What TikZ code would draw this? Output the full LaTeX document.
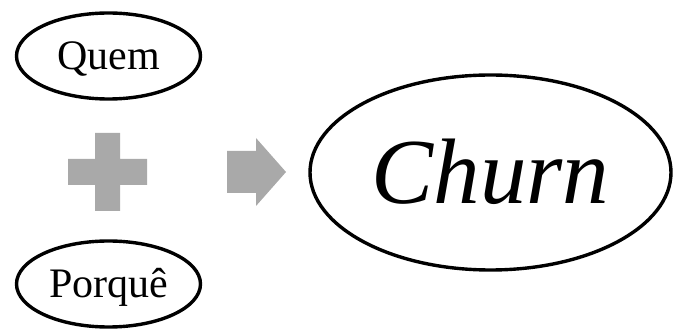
\documentclass[tikz,border=0pt]{standalone}
\usepackage{fontspec}
\setmainfont{Liberation Serif}
\usepackage{xcolor}
\usepackage{tikz}
\usetikzlibrary{shapes.geometric}
\definecolor{symgray}{HTML}{A9A9A9}

\begin{document}
\begin{tikzpicture}[x=1pt,y=-1pt,
  oval/.style={ellipse,draw=black,line width=3.4pt,inner sep=0pt,text depth=0pt},
  small/.style={oval,font=\fontsize{42}{42}\selectfont,text height=28pt,minimum width=184pt,minimum height=86pt},
  sym/.style={fill=symgray,draw=none}]
\useasboundingbox (0,0) rectangle (673,331);

\node[small] (quem) at (108.5,56) {Quem};
\node[small] (porque) at (108.5,284) {Porquê};
\node[oval,font=\fontsize{93}{93}\selectfont\itshape,text height=62pt,minimum width=361pt,minimum height=195pt] (churn) at (490.5,172.5) {Churn};

% plus and arrow
\fill[sym] (95,133) -- (120,133) -- (120,159) -- (147,159) -- (147,185) -- (120,185)
  -- (120,211) -- (95,211) -- (95,185) -- (68,185) -- (68,159) -- (95,159) -- cycle;
\fill[sym] (227,151) -- (256,151) -- (256,138) -- (286,172) -- (256,206) -- (256,193)
  -- (227,193) -- cycle;
\end{tikzpicture}
\end{document}
